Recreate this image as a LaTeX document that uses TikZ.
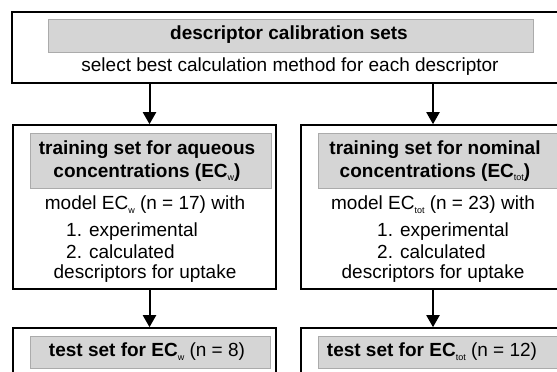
\documentclass[tikz,border=0pt]{standalone}
\usepackage{fontspec}
\setmainfont{Liberation Sans}
\usetikzlibrary{arrows.meta}
% small, upright subscript used after "EC"
\newcommand\lowsub[1]{\raisebox{-0.35ex}{\fontsize{9}{9}\selectfont\mdseries #1}}
\definecolor{panelfill}{HTML}{D5D5D5}
\definecolor{paneledge}{HTML}{ABABAB}
\tikzset{
  outerbox/.style={draw=black, line width=1.6pt, fill=white, inner sep=0pt},
  headbox/.style={draw=paneledge, line width=0.9pt, fill=panelfill, inner sep=0pt},
  plain/.style={font=\fontsize{19}{22.5}\selectfont, inner sep=0pt, align=center},
  heading/.style={font=\fontsize{19}{22.5}\selectfont\bfseries, inner sep=0pt, align=center},
  listing/.style={font=\fontsize{19}{22.5}\selectfont, inner sep=0pt, align=left, anchor=west},
  flow/.style={line width=2pt, -{Triangle[width=13pt,length=12pt]}}
}
\begin{document}
\begin{tikzpicture}[x=1pt, y=-1pt]
\useasboundingbox (0,0) rectangle (557,372);

% top stage
\node[outerbox, minimum width=557pt, minimum height=71pt] (top) at (290.5,47.5) {};
\node[headbox, minimum width=485pt, minimum height=33pt] (topgray) at (290.5,35.5) {};
\node[heading] (toptitle) at (289,35) {descriptor calibration sets};
\node[plain] (topnote) at (290,67) {select best calculation method for each descriptor};

% training sets
\node[outerbox, minimum width=263pt, minimum height=164pt] (lmid) at (144.5,207) {};
\node[outerbox, minimum width=263pt, minimum height=164pt] (rmid) at (432.5,207) {};
\node[headbox, minimum width=241pt, minimum height=55pt] (lgray) at (150.5,160.5) {};
\node[headbox, minimum width=241pt, minimum height=55pt] (rgray) at (438.5,160.5) {};
\node[heading] (ltitle) at (147,161) {training set for aqueous\\concentrations (EC\lowsub{w})};
\node[heading] (rtitle) at (435,161) {training set for nominal\\concentrations (EC\lowsub{tot})};

\node[plain] (lmodel) at (145,205) {model EC\lowsub{w} (n = 17) with};
\node[listing] (llist) at (66,240.5) {1. experimental\\2. calculated};
\node[plain] (ldesc) at (145,274) {descriptors for uptake};

\node[plain] (rmodel) at (433,205) {model EC\lowsub{tot} (n = 23) with};
\node[listing] (rlist) at (377,240.5) {1. experimental\\2. calculated};
\node[plain] (rdesc) at (433,274) {descriptors for uptake};

% test sets
\node[outerbox, minimum width=263pt, minimum height=72pt] (lbot) at (144.5,364) {};
\node[outerbox, minimum width=263pt, minimum height=72pt] (rbot) at (432.5,364) {};
\node[headbox, minimum width=240pt, minimum height=32pt] (lbgray) at (150,352) {};
\node[headbox, minimum width=240pt, minimum height=32pt] (rbgray) at (438,352) {};
\node[plain] (ltest) at (147,352) {\textbf{test set for EC}\lowsub{w} (n = 8)};
\node[plain] (rtest) at (432,352) {\textbf{test set for EC}\lowsub{tot} (n = 12)};

% flow arrows
\coordinate (lx) at (149.5,0);
\coordinate (rx) at (433,0);
\draw[flow] (top.south -| lx) -- (lmid.north -| lx);
\draw[flow] (top.south -| rx) -- (rmid.north -| rx);
\draw[flow] (lmid.south -| lx) -- (lbot.north -| lx);
\draw[flow] (rmid.south -| rx) -- (rbot.north -| rx);
\end{tikzpicture}
\end{document}
